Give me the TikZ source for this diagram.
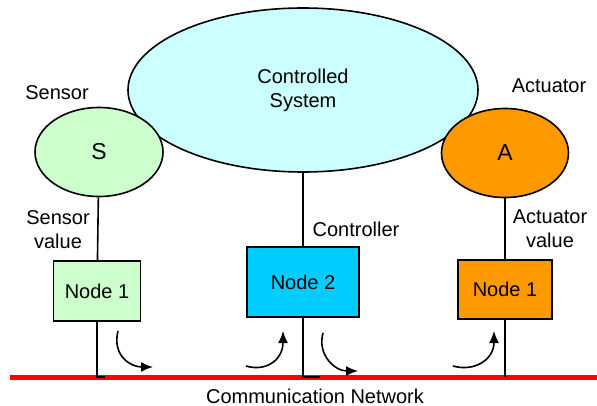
\documentclass[tikz,border=0pt]{standalone}
\usepackage{fontspec}
\setmainfont{Liberation Sans}
\usetikzlibrary{shapes.geometric,arrows.meta}

\definecolor{plantblue}{RGB}{204,255,255}
\definecolor{sensgreen}{RGB}{204,255,204}
\definecolor{actorange}{RGB}{255,153,0}
\definecolor{ctrlcyan}{RGB}{0,204,255}

\begin{document}
\begin{tikzpicture}[x=1pt, y=-1pt,
	every node/.style={font=\fontsize{20}{24}\selectfont, align=center},
	blob/.style={draw, ellipse, line width=1.6pt, inner sep=0pt},
	box/.style={draw, line width=1.3pt, inner sep=0pt},
	wire/.style={line width=1.6pt},
	hop/.style={line width=1.6pt, -{Latex[length=12pt, width=10pt]}}]
	\useasboundingbox (0, 0) rectangle (597, 406);

	\node[blob, fill=plantblue, minimum width=350, minimum height=164] at (303, 90) (CS) {Controlled\\System};
	\node[blob, fill=sensgreen, minimum width=128, minimum height=89, font=\fontsize{23}{27}\selectfont] at (99, 152) (S) {S};
	\node[blob, fill=actorange, minimum width=127, minimum height=89, font=\fontsize{23}{27}\selectfont] at (505, 153) (A) {A};

	\node[box, fill=sensgreen, minimum width=87, minimum height=60] at (97, 291) (N1L) {Node 1};
	\node[box, fill=ctrlcyan, minimum width=112, minimum height=70] at (303, 282) (N2) {Node 2};
	\node[box, fill=actorange, minimum width=94, minimum height=59] at (505, 289.5) (N1R) {Node 1};

	\node at (57, 93) (sensorlbl) {Sensor};
	\node at (549, 86) (actlbl) {Actuator};
	\node at (58, 230) (svallbl) {Sensor\\value};
	\node at (550, 229) (avallbl) {Actuator\\value};
	\node at (356, 229) (ctrllbl) {Controller};
	\node at (315, 396) (netlbl) {Communication Network};

	% network bus
	\coordinate (busL) at (10, 377);
	\coordinate (busR) at (597, 377);
	\coordinate (tap1) at (105, 377);
	\coordinate (tap2) at (320, 377);
	\coordinate (tap3) at (505, 377);
	\draw[red, line width=5pt] (busL) -- (busR);

	\draw[wire] (S) -- (N1L);
	\draw[wire] (CS) -- (N2);
	\draw[wire] (A) -- (N1R);
	\draw[wire] (N1L.south) |- (tap1);
	\draw[wire] (N2.south) |- (tap2);
	\draw[wire] (N1R.south) -- (tap3);

	% message hops
	\draw[hop] (118, 331) .. controls (112, 355) and (130, 367) .. (153, 367);
	\draw[hop] (246, 366) .. controls (266, 372) and (283, 360) .. (283, 331);
	\draw[hop] (323, 333) .. controls (317, 355) and (335, 371) .. (358, 371);
	\draw[hop] (453, 366) .. controls (474, 372) and (494, 360) .. (494, 331);
\end{tikzpicture}
\end{document}
